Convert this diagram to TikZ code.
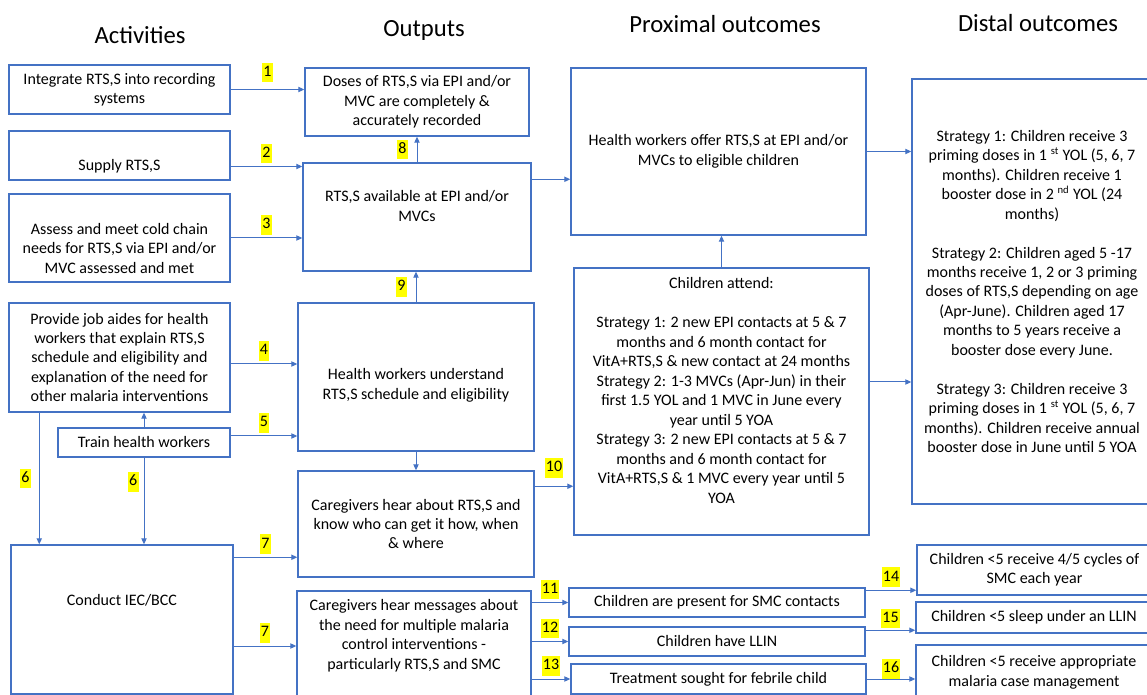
\documentclass[tikz,border=0pt]{standalone}
\usepackage{fontspec}
\setmainfont{Carlito}
\usetikzlibrary{arrows.meta,calc}
\definecolor{BoxBlue}{RGB}{68,114,196}
\definecolor{NumYellow}{RGB}{255,255,0}
% struts to nudge text inside a box
\newcommand{\padtop}[1]{\rule{0pt}{#1}}
\newcommand{\padbot}[1]{\rule[-#1]{0pt}{0pt}}

\begin{document}
\begin{tikzpicture}[
  x=0.75pt, y=-0.75pt,
  font=\fontsize{12}{14.6}\selectfont,
  >={Triangle[length=4.5pt,width=4pt]},
  box/.style={draw=BoxBlue, line width=1.1pt, align=center, inner sep=2pt},
  head/.style={font=\fontsize{18.5}{22}\selectfont},
  arr/.style={->, draw=BoxBlue, line width=0.75pt},
  num/.style={fill=NumYellow, inner xsep=1pt, inner ysep=1.5pt, text height=8.8pt, text depth=3pt},
]
\path[use as bounding box, fill=white] (0,0) rectangle (1147,695);

% ============ COLUMN HEADINGS ============
\node[head] (hact)  at (140,35)  {Activities};
\node[head] (hout)  at (424,30)  {Outputs};
\node[head] (hprox) at (725,24)  {Proximal outcomes};
\node[head] (hdist) at (1038,23) {Distal outcomes};

% ============ ACTIVITIES ============
\node[box, minimum width=165.75pt, minimum height=36.75pt] (a1) at (119.5,89.5)
   {Integrate RTS,S into recording\\ systems};
\node[box, minimum width=165.75pt, minimum height=36.75pt] (a2) at (119.5,155.5)
   {\padtop{24pt}Supply RTS,S};
\node[box, minimum width=165.75pt, minimum height=66pt] (a3) at (119.5,238)
   {\padtop{24pt}Assess and meet cold chain\\ needs for RTS,S via EPI and/or\\ MVC assessed and met};
\node[box, minimum width=165.75pt, minimum height=81.75pt] (a4) at (119.5,357.5)
   {Provide job aides for health\\ workers that explain RTS,S\\ schedule and eligibility and\\ explanation of the need for\\ other malaria interventions};
\node[box, minimum width=129pt, minimum height=21.75pt] (a5) at (144,442.5)
   {Train health workers};
\node[box, minimum width=166.5pt, minimum height=111.75pt] (iec) at (122,619.5)
   {Conduct IEC/BCC\padbot{30pt}};

% ============ OUTPUTS ============
\node[box, minimum width=168pt, minimum height=51pt] (o1) at (417,102)
   {Doses of RTS,S via EPI and/or\\ MVC are completely \&\\ accurately recorded};
\node[box, minimum width=171pt, minimum height=81pt] (o2) at (417,217)
   {RTS,S available at EPI and/or\\ MVCs\padbot{16.5pt}};
\node[box, minimum width=177pt, minimum height=111pt] (o3) at (416,377)
   {\padtop{21pt}Health workers understand\\ RTS,S schedule and eligibility};
\node[box, minimum width=177pt, minimum height=79.5pt] (o4) at (416,524)
   {Caregivers hear about RTS,S and\\ know who can get it how, when\\ \& where};
\node[box, minimum width=175.5pt, minimum height=89.25pt] (o5) at (414,650.5)
   {Caregivers hear messages about\\ the need for multiple malaria\\ control interventions -\\ particularly RTS,S and SMC\padbot{24pt}};

% ============ PROXIMAL OUTCOMES ============
\node[box, minimum width=221.25pt, minimum height=125.25pt] (p1) at (718.5,151.5)
   {Health workers offer RTS,S at EPI and/or\\ MVCs to eligible children};
\node[box, minimum width=221.25pt, minimum height=200.25pt] (p2) at (721.5,401.5)
   {Children attend:\\[14.6pt]
    Strategy 1: 2 new EPI contacts at 5 \& 7\\ months and 6 month contact for\\
    VitA+RTS,S \& new contact at 24 months\\
    Strategy 2: 1-3 MVCs (Apr-Jun) in their\\ first 1.5 YOL and 1 MVC in June every\\ year until 5 YOA\\
    Strategy 3: 2 new EPI contacts at 5 \& 7\\ months and 6 month contact for\\
    VitA+RTS,S \& 1 MVC every year until 5\\ YOA\padbot{16.5pt}};
\node[box, minimum width=222pt, minimum height=21.75pt] (p3) at (717,602.5)
   {Children are present for SMC contacts};
\node[box, minimum width=222pt, minimum height=21.75pt] (p4) at (717,641.5)
   {Children have LLIN};
\node[box, minimum width=221.25pt, minimum height=22.5pt] (p5) at (718.5,679)
   {Treatment sought for febrile child};

% ============ DISTAL OUTCOMES ============
\node[box, minimum width=180pt, minimum height=318.75pt] (d1) at (1032,291.5)
   {Strategy 1: Children receive 3\\ priming doses in 1 \textsuperscript{st} YOL (5, 6, 7\\
    months). Children receive 1\\ booster dose in 2 \textsuperscript{nd} YOL (24\\ months)\\[14.6pt]
    Strategy 2: Children aged 5 -17\\ months receive 1, 2 or 3 priming\\
    doses of RTS,S depending on age\\ (Apr-June). Children aged 17\\
    months to 5 years receive a\\ booster dose every June.\\[14.6pt]
    Strategy 3: Children receive 3\\ priming doses in 1 \textsuperscript{st} YOL (5, 6, 7\\
    months). Children receive annual\\ booster dose in June until 5 YOA};
\node[box, minimum width=176.25pt, minimum height=37.5pt] (d2) at (1034.5,570)
   {Children <5 receive 4/5 cycles of\\ SMC each year};
\node[box, minimum width=177pt, minimum height=23.25pt] (d3) at (1034,617.5)
   {Children <5 sleep under an LLIN};
\node[box, minimum width=177pt, minimum height=41.25pt] (d4) at (1034,672.5)
   {Children <5 receive appropriate\\ malaria case management};

% ---- activities -> outputs ----
\draw[arr] (a1.east) -- (a1.east -| o1.west) node[num, midway, above=5pt] {1};
\draw[arr] ($(a2.east)+(0,11)$) coordinate (s2) -- (s2 -| o2.west) node[num, midway, above=2pt] {2};
\draw[arr] (a3.east) -- (a3.east -| o2.west) node[num, midway, above=2pt] {3};
\draw[arr] ($(a4.east)+(0,6.5)$) coordinate (s4) -- (s4 -| o3.west) node[num, midway, above=2pt] {4};
\draw[arr] ($(a5.east)+(0,-6.5)$) coordinate (s5) -- (s5 -| o3.west) node[num, midway, above=2pt] {5};
\draw[arr] (a5.north) -- (a5.north |- a4.south);
\draw[arr] ($(a4.south west)+(31,0)$) coordinate (s6) -- (s6 |- iec.north) node[num, midway, left=6pt] {6};
\draw[arr] (a5.south) -- (a5.south |- iec.north) node[num, pos=0.28, left=3.75pt] {6};
\draw[arr] ($(iec.north east)+(0,13)$) coordinate (s7) -- (s7 -| o4.west) node[num, midway, above=2pt] {7};
\draw[arr] ($(iec.east)+(0,26.5)$) coordinate (t7) -- (t7 -| o5.west) node[num, midway, above=2pt] {7};

% ---- outputs chain, outputs -> proximal ----
\draw[arr] (o2.north) -- (o1.south) node[num, midway, left=6.5pt] {8};
\draw[arr] (o3.north) -- (o3.north |- o2.south) node[num, midway, left=6.5pt] {9};
\draw[arr] (o3.south) -- (o4.north);
\draw[arr] ($(o2.north east)+(0,17)$) coordinate (s12) -- (s12 -| p1.west);
\draw[arr] ($(o4.north east)+(0,16)$) coordinate (s10) -- (s10 -| p2.west) node[num, midway, above=6pt] {10};
\draw[arr] (p3.west -| o5.east) -- (p3.west) node[num, midway, above=2pt] {11};
\draw[arr] (p4.west -| o5.east) -- (p4.west) node[num, midway, above=2pt] {12};
\draw[arr] (p5.west -| o5.east) -- (p5.west) node[num, midway, above=2pt] {13};

% ---- proximal -> distal ----
\draw[arr] (p2.north) -- (p2.north |- p1.south);
\draw[arr] (p1.east) -- (p1.east -| d1.west);
\draw[arr] ($(p2.east)+(0,-19.5)$) coordinate (s22) -- (s22 -| d1.west);
\draw[arr] ($(p3.north east)+(0,3)$) coordinate (s14) -- (s14 -| d2.west) node[num, midway, above=2pt] {14};
\draw[arr] ($(p4.north east)+(0,4)$) coordinate (s15) -- (s15 -| d3.west) node[num, midway, above=1pt] {15};
\draw[arr] (p5.east) -- (p5.east -| d4.west) node[num, midway, above=0pt] {16};

\end{tikzpicture}
\end{document}
